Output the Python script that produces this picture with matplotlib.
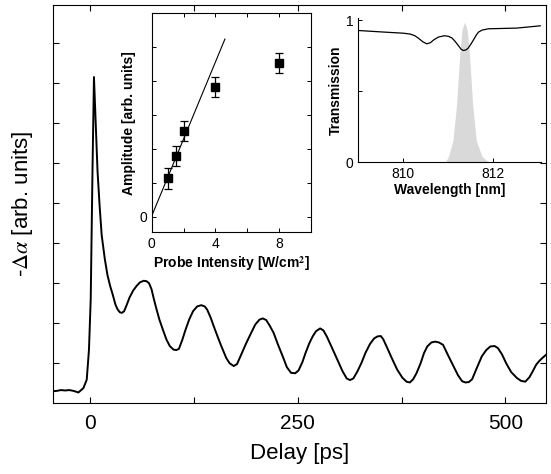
import matplotlib
matplotlib.use("Agg")
import matplotlib.pyplot as plt

plt.rcParams["font.family"] = ["Liberation Sans", "DejaVu Sans"]
plt.rcParams["mathtext.fontset"] = "stix"

# main trace: delay [ps] vs -delta alpha [arb. units]
delay = [-45, -40, -35, -30, -25, -20, -14, -8, -4, -1.3, 0.8, 3, 4.7, 7.2,
         9, 11.5, 14, 17.8, 21, 24.2, 27.5, 30.5, 33, 36, 38.5, 41, 44, 47.5,
         52, 56, 60, 64.5, 68, 71, 74, 77, 80, 83.5, 88, 92, 96, 100.5, 104,
         107, 111, 115, 119.5, 124, 129, 134, 138, 141, 145, 149, 153.5, 158,
         164, 168, 173, 177, 183, 188, 194, 199, 204, 208, 212, 216, 221, 226,
         232, 237, 242, 247, 251, 255.5, 259.5, 264, 268, 272, 277, 281, 285,
         291, 297.7, 304, 309, 313, 317, 322, 327, 331.6, 337, 342, 346, 350,
         353, 357, 363, 369.8, 376, 381, 385, 389, 393, 398, 402, 406, 411,
         415.5, 420, 425, 431, 437.7, 443, 448, 452, 456, 460, 465, 471.6,
         477, 482, 487, 491, 496, 501, 507, 514, 519, 524, 529, 533, 537, 541,
         545, 549]
signal = [0.30, 0.31, 0.33, 0.32, 0.33, 0.31, 0.27, 0.38, 0.59, 1.34, 2.6,
          5.9, 8.15, 6.78, 5.8, 4.94, 4.2, 3.6, 3.2, 2.93, 2.7, 2.47, 2.35,
          2.27, 2.26, 2.3, 2.45, 2.64, 2.82, 2.93, 3.02, 3.06, 3.05, 3.0,
          2.85, 2.59, 2.35, 2.09, 1.82, 1.59, 1.43, 1.34, 1.33, 1.36, 1.58,
          1.84, 2.1, 2.3, 2.42, 2.45, 2.42, 2.34, 2.15, 1.92, 1.67, 1.43, 1.13,
          1.0, 0.93, 0.98, 1.26, 1.5, 1.76, 1.97, 2.09, 2.12, 2.08, 1.95, 1.76,
          1.48, 1.17, 0.9, 0.76, 0.75, 0.82, 1.02, 1.26, 1.5, 1.67, 1.8, 1.87,
          1.82, 1.67, 1.4, 1.09, 0.8, 0.62, 0.58, 0.62, 0.8, 1.02, 1.26, 1.48,
          1.62, 1.67, 1.68, 1.6, 1.42, 1.14, 0.84, 0.64, 0.54, 0.52, 0.6, 0.75,
          1.0, 1.25, 1.42, 1.52, 1.54, 1.52, 1.46, 1.2, 0.92, 0.7, 0.55, 0.52,
          0.53, 0.6, 0.85, 1.17, 1.33, 1.42, 1.43, 1.38, 1.22, 1.0, 0.78, 0.63,
          0.56, 0.54, 0.65, 0.8, 0.96, 1.06, 1.14, 1.21]

# inset 1: amplitude vs probe intensity
intensity = [1, 1.5, 2, 4, 8]
amplitude = [1.13, 1.79, 2.53, 3.82, 4.53]
amp_err = [0.3, 0.3, 0.3, 0.3, 0.3]
fit_x = [0, 4.6]
fit_y = [0.02, 5.24]

# inset 2: transmission spectrum and laser line
wl = [809.0, 809.56, 810.0, 810.15, 810.25, 810.33, 810.43, 810.52, 810.6,
      810.68, 810.78, 810.91, 811.0, 811.08, 811.15, 811.22, 811.28, 811.33,
      811.39, 811.44, 811.5, 811.56, 811.62, 811.67, 811.75, 811.89, 812.52,
      813.04]
trans = [0.929, 0.918, 0.91, 0.904, 0.893, 0.876, 0.85, 0.835, 0.843, 0.864,
         0.883, 0.892, 0.888, 0.876, 0.852, 0.823, 0.798, 0.788, 0.792, 0.805,
         0.833, 0.864, 0.897, 0.918, 0.932, 0.941, 0.946, 0.962]
laser_wl = [810.93, 811.0, 811.1, 811.18, 811.25, 811.3, 811.36, 811.42,
            811.47, 811.54, 811.62, 811.75, 811.9]
laser = [0.0, 0.04, 0.15, 0.4, 0.75, 0.93, 0.99, 0.93, 0.75, 0.4, 0.15,
         0.04, 0.0]

fig = plt.figure(figsize=(5.51, 4.74), dpi=100)

ax = fig.add_axes([0.0956, 0.1492, 0.8954, 0.8403])
ax.plot(delay, signal, color="black", lw=1.4)
ax.set_xlim(-45, 549)
ax.set_ylim(0, 9.95)
ax.set_xticks([0, 125, 250, 375, 500])
ax.set_xticklabels(["0", "", "250", "", "500"])
ax.set_yticks(range(1, 10))
ax.set_yticklabels([])
ax.tick_params(direction="in", top=True, right=True, length=4, width=0.8,
               labelsize=15, pad=8)
ax.set_xlabel("Delay [ps]", fontsize=16, labelpad=7)
ax.set_ylabel(r"-$\mathit{\Delta\alpha}$ [arb. units]", fontsize=16, labelpad=5)

# inset 1
ax1 = fig.add_axes([0.2753, 0.5099, 0.2889, 0.462])
ax1.plot(fit_x, fit_y, color="black", lw=0.8)
ax1.errorbar(intensity, amplitude, yerr=amp_err, fmt="s", color="black",
             ms=6, capsize=3, elinewidth=0.9, capthick=0.9)
ax1.set_xlim(0, 10)
ax1.set_ylim(-0.46, 6.0)
ax1.set_xticks([0, 2, 4, 6, 8])
ax1.set_xticklabels(["0", "", "4", "", "8"])
ax1.set_yticks(range(0, 6))
ax1.set_yticklabels(["0", "", "", "", "", ""])
ax1.tick_params(direction="in", top=True, right=True, length=3, width=0.7,
                labelsize=10)
ax1.set_xlabel("Probe Intensity [W/cm$^\\mathbf{2}$]", fontsize=10,
               fontweight="bold", labelpad=2)
ax1.set_ylabel("Amplitude [arb. units]", fontsize=10, fontweight="bold",
               labelpad=2)

# inset 2
ax2 = fig.add_axes([0.6503, 0.6576, 0.331, 0.3038])
ax2.fill_between(laser_wl, laser, color="#d9d9d9", lw=0)
ax2.plot(wl, trans, color="black", lw=0.9)
ax2.set_xlim(809.0, 813.05)
ax2.set_ylim(0, 1.015)
ax2.spines["top"].set_visible(False)
ax2.spines["right"].set_visible(False)
ax2.set_xticks([810, 812])
ax2.set_yticks([0, 0.5, 1])
ax2.set_yticklabels(["0", "", "1"])
ax2.tick_params(direction="in", length=3, width=0.7, labelsize=10)
ax2.set_xlabel("Wavelength [nm]", fontsize=10, fontweight="bold", labelpad=1)
ax2.set_ylabel("Transmission", fontsize=10, fontweight="bold", labelpad=2)

fig.savefig("out.png", dpi=100)
